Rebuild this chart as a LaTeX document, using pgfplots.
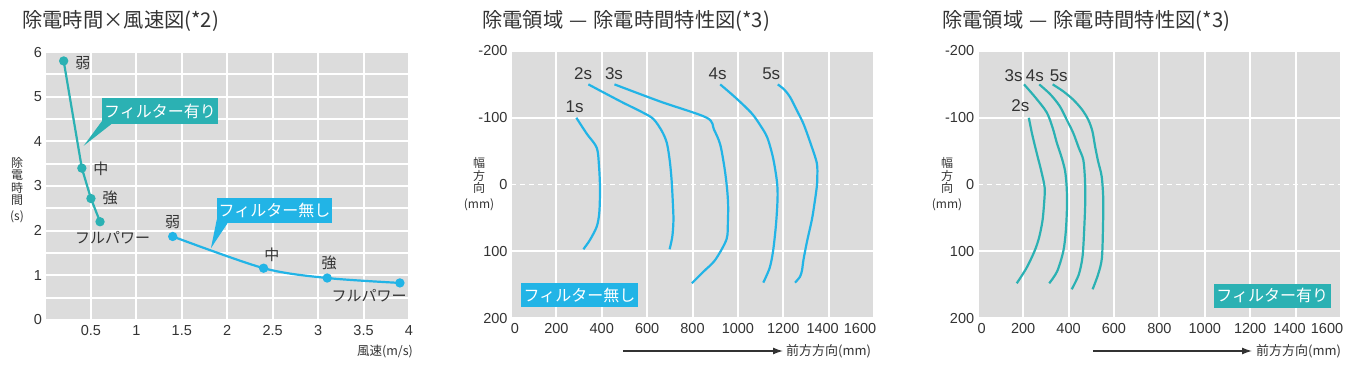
\documentclass[border=0pt]{standalone}
\usepackage{pgfplots}
\pgfplotsset{compat=1.18}
\usetikzlibrary{arrows.meta}
\usepackage{fontspec}
\setmainfont{Liberation Sans}
\newfontfamily\jp{Noto Sans CJK JP}
\definecolor{bgc}{HTML}{DCDCDC}
\definecolor{tealc}{HTML}{2BB1B3}
\definecolor{bluec}{HTML}{22B4E6}
\definecolor{txt}{HTML}{333333}
\pgfplotsset{
 base/.style={scale only axis, anchor=south west, axis line style={draw=none},
   major tick length=0pt, minor tick length=0pt,
   axis background/.style={fill=bgc},
   grid style={white,line width=2pt}, minor grid style={white,line width=2pt},
   tick label style={font=\fontsize{14.5}{14.5}\selectfont, text=txt},
   xticklabel style={yshift=-1.5pt},
   /pgf/number format/assume math mode=true, /pgf/number format/1000 sep={},
   clip=false},
 mmx/.style={xmin=0, xmax=1600, ymin=-200, ymax=200, y dir=reverse,
  xtick={0,200,400,600,800,1000,1200,1400,1600},
  xticklabels={\hspace*{8pt}0,200,400,600,800,1000,1200,1400\hspace*{12pt},1600\hspace*{28pt}},
  ytick={-200,-100,100,200}, extra y ticks={0},
  extra y tick style={major grid style={white,line width=1.5pt,dash pattern=on 5pt off 4pt}},
  xmajorgrids, ymajorgrids},
}
\tikzset{
 lab/.style={font=\jp\fontsize{15}{15}\selectfont, text=txt, inner sep=0pt},
 slab/.style={font=\fontsize{17}{17}\selectfont, text=txt, inner sep=0pt},
 box/.style={text=white, font=\jp\fontsize{16}{16}\selectfont, inner sep=0pt, minimum height=25pt},
 ttl/.style={anchor=west, font=\jp\fontsize{20.3}{22}\selectfont, text=txt, inner sep=0pt},
}
\begin{document}
\begin{tikzpicture}
\path[use as bounding box] (0pt,0pt) rectangle (1354pt,-367pt);
% ---------- Panel 1 ----------
\begin{axis}[base, at={(45.5pt,-320pt)}, width=363.5pt, height=268pt,
  xmin=0, xmax=4, ymin=0, ymax=6,
  xtick={0.5,1,1.5,2,2.5,3,3.5,4}, xticklabels={0.5,1,1.5,2,2.5,3,3.5,4},
  ytick={0,1,2,3,4,5,6}, minor ytick={0.5,1.5,2.5,3.5,4.5,5.5},
  xmajorgrids, ymajorgrids, yminorgrids]
\addplot[tealc, line width=2.2pt, mark=*, mark size=3.5pt] coordinates {(0.2,5.8)(0.4,3.4)(0.5,2.72)(0.6,2.2)};
\addplot[bluec, line width=2.2pt, smooth, mark=*, mark size=3.5pt] coordinates {(1.4,1.87)(2.4,1.16)(3.1,0.94)(3.9,0.83)};
\node[lab] at (axis cs:0.41,5.75) {弱};
\node[lab] at (axis cs:0.61,3.38) {中};
\node[lab] at (axis cs:0.71,2.73) {強};
\node[lab] at (axis cs:0.74,1.84) {フルパワー};
\node[lab] at (axis cs:1.40,2.2) {弱};
\node[lab] at (axis cs:2.49,1.46) {中};
\node[lab] at (axis cs:3.12,1.27) {強};
\node[lab] at (axis cs:3.56,0.54) {フルパワー};
\fill[tealc] (axis cs:0.62,4.45) -- (axis cs:0.765,4.45) -- (axis cs:0.42,3.9) -- cycle;
\node[box, fill=tealc, minimum width=116pt, minimum height=26pt] at (axis cs:1.26,4.68) {フィルター有り};
\fill[bluec] (axis cs:1.885,2.25) -- (axis cs:2.03,2.25) -- (axis cs:1.82,1.605) -- cycle;
\node[box, fill=bluec, minimum width=115pt, minimum height=25pt] at (axis cs:2.52,2.45) {フィルター無し};
\end{axis}
% ---------- Panel 2 ----------
\begin{axis}[base, mmx, at={(511pt,-318pt)}, width=363pt, height=267pt]
\addplot[bluec, line width=2.2pt, smooth] coordinates {(288,-100)(334,-76)(378,-55)(388,-27)(392,0)(392,18)(389,43)(378,63)(348,83)(319,97)};
\addplot[bluec, line width=2.2pt, smooth] coordinates {(341,-150)(480,-125)(580,-108)(628,-98)(665,-80)(687,-62)(700,-35)(708,-6)(713,25)(716,53)(711,78)(699,97)};
\addplot[bluec, line width=2.2pt, smooth] coordinates {(456,-150)(660,-124)(863,-100)(895,-82)(922,-60)(941,-25)(952,5)(957,30)(956,55)(950,82)(900,113)(850,130)(797,148)};
\addplot[bluec, line width=2.2pt, smooth] coordinates {(922,-150)(990,-130)(1060,-107)(1100,-88)(1130,-70)(1155,-40)(1172,-5)(1175,20)(1168,60)(1155,100)(1140,125)(1112,147)};
\addplot[bluec, line width=2.2pt, smooth] coordinates {(1176,-150)(1205,-142)(1230,-131)(1260,-111)(1289,-91)(1320,-62)(1348,-32)(1350,-10)(1348,3)(1337,30)(1326,53)(1305,85)(1289,113)(1283,128)(1274,138)(1252,147)};
\node[slab] at (axis cs:280,-117) {1s};
\node[slab] at (axis cs:318,-166) {2s};
\node[slab] at (axis cs:454,-166) {3s};
\node[slab] at (axis cs:911,-166) {4s};
\node[slab] at (axis cs:1147,-166) {5s};
\node[box, fill=bluec, minimum width=117pt, minimum height=24pt] at (axis cs:302,165.5) {フィルター無し};
\end{axis}
% ---------- Panel 3 ----------
\begin{axis}[base, mmx, at={(977.7pt,-318pt)}, width=363.3pt, height=267pt]
\addplot[tealc, line width=2.2pt, smooth] coordinates {(225,-100)(240,-75)(260,-47)(280,-20)(295,5)(292,30)(285,55)(270,80)(250,100)(215,125)(172,148)};
\addplot[tealc, line width=2.2pt, smooth] coordinates {(204,-150)(255,-130)(304,-108)(330,-85)(348,-63)(370,-40)(385,-20)(392,5)(393,35)(388,70)(377,100)(350,130)(315,148)};
\addplot[tealc, line width=2.2pt, smooth] coordinates {(271,-150)(320,-135)(362,-117)(395,-95)(421,-77)(445,-55)(465,-37)(472,-10)(474,20)(470,60)(462,107)(445,135)(414,157)};
\addplot[tealc, line width=2.2pt, smooth] coordinates {(330,-150)(375,-140)(421,-127)(460,-112)(487,-97)(505,-80)(517,-57)(530,-35)(546,-12)(553,22)(552,60)(547,110)(530,135)(506,157)};
\node[slab] at (axis cs:158,-163.5) {3s};
\node[slab] at (axis cs:252,-163.5) {4s};
\node[slab] at (axis cs:357,-163.5) {5s};
\node[slab] at (axis cs:188,-117.5) {2s};
\node[box, fill=tealc, minimum width=117pt, minimum height=24pt] at (axis cs:1297,166.5) {フィルター有り};
\end{axis}
% ---------- Titles and labels ----------
\node[ttl] at (22pt,-21pt) {除電時間×風速図(*2)};
\node[ttl] at (482pt,-21pt) {除電領域\hspace{6pt}—\hspace{6pt}除電時間特性図(*3)};
\node[ttl] at (942pt,-21pt) {除電領域\hspace{6pt}—\hspace{6pt}除電時間特性図(*3)};
\node[align=center, font=\jp\fontsize{12}{12.4}\selectfont, text=txt, inner sep=0pt] at (17pt,-190pt) {除\\電\\時\\間\\[3pt](s)};
\node[align=center, font=\jp\fontsize{12}{12.6}\selectfont, text=txt, inner sep=0pt] at (479pt,-184pt) {幅\\方\\向\\[3pt](mm)};
\node[align=center, font=\jp\fontsize{12}{12.6}\selectfont, text=txt, inner sep=0pt] at (947pt,-184pt) {幅\\方\\向\\[3pt](mm)};
\node[font=\jp\fontsize{12.5}{13}\selectfont, text=txt, inner sep=0pt] at (385pt,-351pt) {風速(m/s)};
\draw[txt, line width=1.3pt, -{Latex[length=10pt,width=7pt]}] (623pt,-351pt) -- (783pt,-351pt);
\node[anchor=west, font=\jp\fontsize{13}{13}\selectfont, text=txt, inner sep=0pt] at (786pt,-351pt) {前方方向(mm)};
\draw[txt, line width=1.3pt, -{Latex[length=10pt,width=7pt]}] (1093pt,-351pt) -- (1252pt,-351pt);
\node[anchor=west, font=\jp\fontsize{13}{13}\selectfont, text=txt, inner sep=0pt] at (1256pt,-351pt) {前方方向(mm)};
\end{tikzpicture}
\end{document}
